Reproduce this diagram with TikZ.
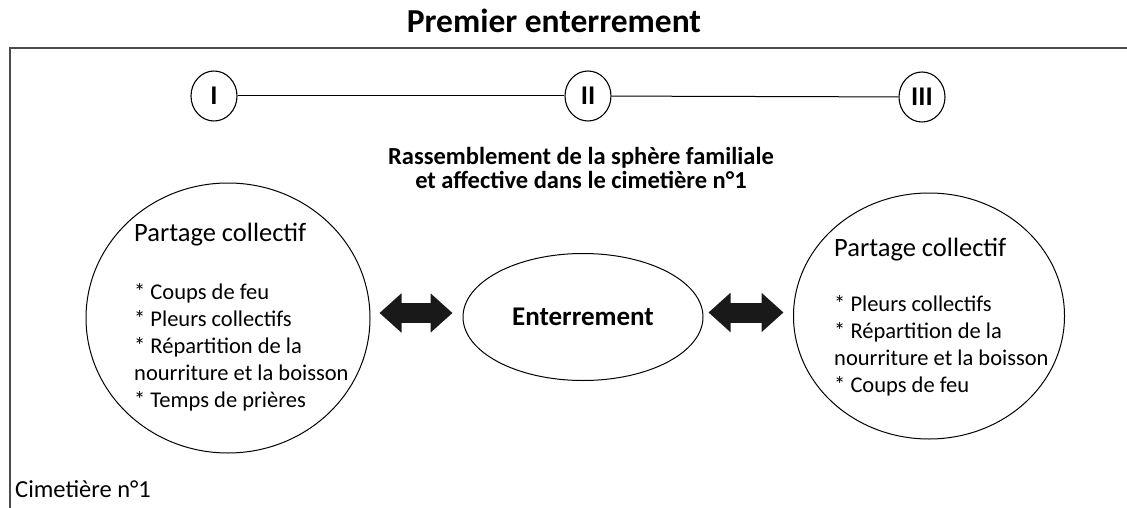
\documentclass[tikz,border=0pt]{standalone}
\usepackage{fontspec}
\setmainfont{Carlito}
\usetikzlibrary{arrows.meta,shapes.geometric}
\tikzset{
  phasebox/.style={draw, ellipse, line width=1.1pt, minimum width=46pt, minimum height=50pt, inner sep=0pt, font=\fontsize{27}{30}\selectfont\bfseries},
  sharebox/.style={draw, ellipse, line width=1pt, inner sep=0pt},
  burialbox/.style={draw, ellipse, line width=1pt, minimum width=240pt, minimum height=127pt, inner sep=0pt, font=\fontsize{27}{30}\selectfont\bfseries},
  headtext/.style={anchor=base west, inner sep=0pt, font=\fontsize{26.5}{30}\selectfont},
  listtext/.style={anchor=north west, align=left, inner sep=0pt, font=\fontsize{22.5}{27}\selectfont},
  timeline/.style={line width=1pt},
  swaparrow/.style={line width=20pt, draw=black!90, {Triangle[length=22pt,width=38pt]}-{Triangle[length=22pt,width=38pt]}},
  frameline/.style={line width=1.5pt, draw=black!70}
}

\begin{document}
\begin{tikzpicture}[x=1pt, y=-1pt]
  \useasboundingbox (0,0) rectangle (1127,508);
  \draw[frameline] (10,512) |- (1131,48);
  \node[anchor=base, inner sep=0pt, font=\fontsize{33.5}{38}\selectfont\bfseries] (title) at (554,33) {Premier enterrement};

  \node[phasebox] (p1) at (214,96) {I};
  \node[phasebox] (p2) at (588,96) {II};
  \node[phasebox] (p3) at (922,97) {III};
  \draw[timeline] (p1) -- (p2);
  \draw[timeline] (p2) -- (p3);

  \node[align=center, anchor=north, inner sep=0pt, font=\fontsize{24.5}{24.5}\selectfont\bfseries] (gather) at (581,147) {Rassemblement de la sphère familiale\\et affective dans le cimetière n°1};

  \node[sharebox, minimum width=284pt, minimum height=270pt] (left) at (228,318) {};
  \node[headtext] (lefthead) at (134,241) {Partage collectif};
  \node[listtext] (leftlist) at (134,283) {* Coups de feu\\* Pleurs collectifs\\* Répartition de la\\nourriture et la boisson\\* Temps de prières};

  \node[burialbox] (burial) at (583,317) {Enterrement};

  \node[sharebox, minimum width=271pt, minimum height=246pt] (right) at (929,316) {};
  \node[headtext] (righthead) at (834,256) {Partage collectif};
  \node[listtext] (rightlist) at (834,295) {* Pleurs collectifs\\* Répartition de la\\nourriture et la boisson\\* Coups de feu};

  \draw[swaparrow, shorten <=9pt, shorten >=10pt] ([yshift=5pt]left.east) -- ([yshift=4pt]burial.west);
  \draw[swaparrow, shorten <=5pt, shorten >=9.5pt] ([yshift=4.5pt]burial.east) -- ([yshift=3.5pt]right.west);

  \node[anchor=base west, inner sep=0pt, font=\fontsize{24.5}{27}\selectfont] (cemetery) at (15,497) {Cimetière n°1};
\end{tikzpicture}
\end{document}
